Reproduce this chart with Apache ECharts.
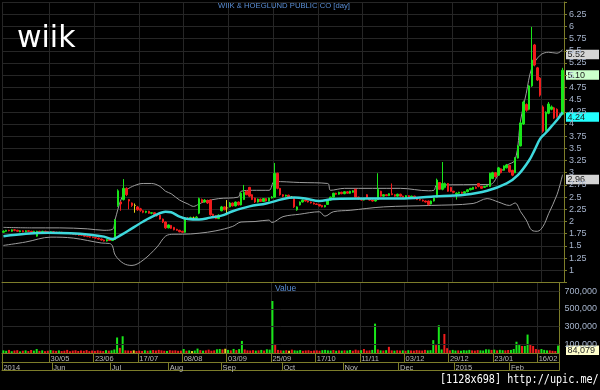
<!DOCTYPE html>
<html><head><meta charset="utf-8">
<script src="https://cdn.jsdelivr.net/npm/echarts@6/dist/echarts.min.js"></script>
<style>html,body{margin:0;padding:0;background:#000;}#c{width:600px;height:390px;}</style>
</head><body><div id="c"></div>
<script>
const dates = [
'06/05/14','07/05/14','08/05/14','09/05/14','12/05/14','14/05/14','15/05/14','16/05/14','19/05/14','20/05/14','21/05/14','22/05/14','23/05/14','26/05/14','27/05/14','28/05/14','29/05/14','30/05/14',
'02/06/14','03/06/14','04/06/14','05/06/14','06/06/14','09/06/14','10/06/14','11/06/14','12/06/14','13/06/14','16/06/14','17/06/14','18/06/14','19/06/14','20/06/14','23/06/14','24/06/14','25/06/14','26/06/14','27/06/14','30/06/14',
'01/07/14','02/07/14','03/07/14','04/07/14','07/07/14','08/07/14','09/07/14','10/07/14','15/07/14','16/07/14','17/07/14','18/07/14','21/07/14','22/07/14','23/07/14','24/07/14','25/07/14','28/07/14','29/07/14','30/07/14','31/07/14',
'01/08/14','04/08/14','05/08/14','06/08/14','07/08/14','08/08/14','13/08/14','14/08/14','15/08/14','18/08/14','19/08/14','20/08/14','21/08/14','22/08/14','25/08/14','26/08/14','27/08/14','28/08/14','29/08/14',
'01/09/14','02/09/14','03/09/14','04/09/14','05/09/14','08/09/14','09/09/14','10/09/14','11/09/14','12/09/14','15/09/14','16/09/14','17/09/14','18/09/14','19/09/14','22/09/14','23/09/14','24/09/14','25/09/14','26/09/14','29/09/14','30/09/14',
'01/10/14','02/10/14','03/10/14','06/10/14','07/10/14','08/10/14','09/10/14','10/10/14','13/10/14','14/10/14','15/10/14','16/10/14','17/10/14','20/10/14','21/10/14','22/10/14','24/10/14','27/10/14','28/10/14','29/10/14','30/10/14','31/10/14',
'03/11/14','04/11/14','05/11/14','06/11/14','07/11/14','10/11/14','11/11/14','12/11/14','13/11/14','14/11/14','17/11/14','18/11/14','19/11/14','20/11/14','21/11/14','24/11/14','25/11/14','26/11/14','27/11/14','28/11/14',
'01/12/14','02/12/14','03/12/14','04/12/14','08/12/14','09/12/14','11/12/14','12/12/14','15/12/14','16/12/14','17/12/14','18/12/14','19/12/14','22/12/14','23/12/14','24/12/14','25/12/14','26/12/14','29/12/14','30/12/14',
'05/01/15','06/01/15','07/01/15','08/01/15','09/01/15','12/01/15','13/01/15','14/01/15','15/01/15','16/01/15','19/01/15','20/01/15','21/01/15','22/01/15','23/01/15','26/01/15','27/01/15','28/01/15','29/01/15','30/01/15',
'02/02/15','03/02/15','04/02/15','05/02/15','06/02/15','09/02/15','10/02/15','11/02/15','12/02/15','13/02/15','16/02/15','17/02/15','18/02/15','19/02/15','20/02/15','23/02/15','24/02/15','25/02/15'
];
const opens = [
1.78,1.80,1.82,1.80,1.83,1.82,1.79,1.81,1.79,1.81,1.80,1.78,1.70,1.80,1.79,1.80,1.79,1.78,
1.79,1.78,1.77,1.78,1.77,1.77,1.76,1.75,1.74,1.73,1.73,1.72,1.70,1.69,1.68,1.67,1.66,1.64,1.62,1.60,1.63,
1.61,1.63,2.33,2.40,2.45,2.68,2.45,2.38,2.33,2.30,2.26,2.22,2.19,2.21,2.17,2.18,2.14,2.13,2.05,1.99,1.87,
1.92,1.88,1.84,1.82,1.80,1.78,2.07,2.05,2.07,2.07,2.17,2.45,2.40,2.43,2.44,2.15,2.12,2.06,2.22,
2.30,2.28,2.30,2.38,2.32,2.40,2.34,2.45,2.62,2.70,2.55,2.48,2.40,2.46,2.41,2.47,2.42,2.48,2.50,2.99,2.68,2.55,
2.52,2.54,2.50,2.48,2.24,2.34,2.40,2.44,2.42,2.40,2.38,2.36,2.35,2.33,2.30,2.35,2.44,2.50,2.58,2.56,2.60,2.57,
2.61,2.58,2.60,2.66,2.50,2.46,2.44,2.55,2.47,2.44,2.42,2.45,2.62,2.52,2.55,2.53,2.57,2.55,2.52,2.56,
2.52,2.50,2.53,2.50,2.52,2.47,2.45,2.44,2.42,2.42,2.36,2.42,2.50,2.80,2.66,2.70,2.78,2.70,2.62,2.56,
2.58,2.60,2.58,2.61,2.65,2.66,2.70,2.78,2.72,2.70,2.72,2.72,2.88,3.00,2.95,3.08,3.05,3.10,3.15,3.05,
3.00,3.30,3.55,4.00,4.40,4.30,4.78,5.62,5.15,4.94,4.35,3.87,4.22,4.30,4.33,4.30,4.20,4.20
];
const closes = [
1.80,1.82,1.81,1.83,1.82,1.80,1.81,1.79,1.81,1.80,1.78,1.80,1.80,1.79,1.80,1.79,1.78,1.79,
1.78,1.77,1.78,1.77,1.76,1.76,1.75,1.74,1.73,1.72,1.72,1.70,1.69,1.68,1.67,1.66,1.64,1.62,1.60,1.63,1.61,
1.63,2.03,2.63,2.36,2.68,2.55,2.42,2.33,2.33,2.24,2.23,2.19,2.21,2.17,2.18,2.14,2.12,2.05,1.99,1.87,1.93,
1.86,1.83,1.82,1.79,1.78,2.07,2.05,2.08,2.07,2.09,2.47,2.40,2.44,2.38,2.14,2.12,2.06,2.13,2.30,
2.24,2.28,2.38,2.32,2.40,2.34,2.58,2.60,2.55,2.52,2.45,2.40,2.46,2.41,2.47,2.42,2.48,2.50,2.99,2.68,2.55,2.52,
2.54,2.50,2.50,2.30,2.30,2.40,2.44,2.42,2.40,2.38,2.36,2.35,2.32,2.30,2.33,2.45,2.50,2.58,2.56,2.60,2.57,2.61,
2.58,2.62,2.63,2.50,2.46,2.44,2.47,2.47,2.44,2.42,2.44,2.66,2.52,2.55,2.53,2.57,2.55,2.52,2.56,2.52,
2.50,2.53,2.50,2.52,2.47,2.45,2.44,2.42,2.40,2.35,2.42,2.48,2.85,2.66,2.78,2.78,2.62,2.62,2.60,2.58,
2.60,2.58,2.61,2.65,2.68,2.70,2.68,2.72,2.68,2.72,2.74,2.99,3.00,2.92,3.10,3.00,3.14,3.16,3.02,2.95,
3.30,3.55,4.02,4.45,4.28,4.78,5.31,5.21,4.90,4.59,3.85,4.24,4.41,4.35,4.12,4.15,4.14,5.10
];
const lows = [
1.77,1.79,1.80,1.79,1.80,1.79,1.78,1.78,1.78,1.79,1.77,1.77,1.69,1.78,1.78,1.78,1.77,1.77,
1.77,1.76,1.76,1.76,1.75,1.75,1.74,1.73,1.72,1.71,1.71,1.69,1.68,1.67,1.66,1.65,1.63,1.61,1.59,1.59,1.60,
1.60,1.62,2.30,2.22,2.43,2.52,2.25,2.30,2.18,2.22,2.20,2.17,2.17,2.16,2.15,2.13,2.10,2.04,1.97,1.85,1.86,
1.85,1.82,1.81,1.78,1.77,1.77,2.03,2.04,2.03,2.05,2.15,2.38,2.39,2.36,2.12,2.10,2.05,2.05,2.21,
2.23,2.13,2.29,2.31,2.31,2.33,2.33,2.44,2.54,2.50,2.44,2.38,2.39,2.40,2.40,2.41,2.41,2.47,2.49,2.66,2.53,2.50,
2.51,2.49,2.48,2.28,2.22,2.33,2.39,2.41,2.39,2.37,2.35,2.34,2.31,2.29,2.29,2.34,2.43,2.49,2.55,2.55,2.56,2.56,
2.57,2.57,2.59,2.49,2.45,2.43,2.43,2.46,2.43,2.41,2.41,2.44,2.51,2.51,2.52,2.52,2.54,2.51,2.51,2.51,
2.49,2.49,2.49,2.49,2.46,2.44,2.43,2.41,2.39,2.33,2.35,2.41,2.49,2.65,2.64,2.68,2.61,2.61,2.58,2.45,
2.57,2.57,2.57,2.60,2.64,2.65,2.67,2.70,2.67,2.69,2.71,2.71,2.87,2.90,2.94,2.99,3.04,3.09,3.00,2.93,
2.99,3.29,3.54,3.98,4.25,4.28,4.76,5.18,4.88,4.56,3.82,3.85,4.20,4.28,4.10,4.13,4.12,4.18
];
const highs = [
1.82,1.83,1.83,1.84,1.84,1.83,1.82,1.82,1.82,1.82,1.81,1.81,1.81,1.81,1.81,1.81,1.80,1.80,
1.80,1.79,1.79,1.79,1.78,1.78,1.77,1.76,1.75,1.74,1.74,1.73,1.71,1.70,1.69,1.68,1.67,1.65,1.63,1.64,1.64,
1.64,2.05,2.66,2.42,2.87,2.70,2.46,2.39,2.37,2.32,2.28,2.23,2.22,2.22,2.19,2.19,2.15,2.14,2.06,2.00,1.94,
1.93,1.89,1.85,1.83,1.81,2.08,2.09,2.10,2.10,2.11,2.49,2.47,2.46,2.45,2.45,2.16,2.13,2.15,2.32,
2.31,2.44,2.40,2.39,2.41,2.41,2.60,2.75,2.64,2.71,2.56,2.49,2.47,2.47,2.48,2.48,2.49,2.52,3.20,3.00,2.69,2.56,
2.55,2.55,2.52,2.49,2.31,2.41,2.45,2.45,2.43,2.41,2.39,2.37,2.36,2.34,2.34,2.46,2.51,2.59,2.59,2.61,2.61,2.62,
2.62,2.63,2.64,2.67,2.51,2.47,2.48,2.56,2.48,2.45,2.45,2.99,2.63,2.56,2.56,2.58,2.78,2.56,2.57,2.57,
2.53,2.54,2.54,2.53,2.53,2.48,2.46,2.45,2.43,2.43,2.43,2.49,2.88,2.81,3.22,2.80,2.79,2.71,2.63,2.60,
2.61,2.61,2.62,2.66,2.69,2.71,2.72,2.79,2.73,2.73,2.75,3.00,3.02,3.01,3.12,3.09,3.15,3.18,3.16,3.06,
3.32,3.57,4.05,4.48,4.42,4.80,5.99,5.64,5.17,4.96,4.38,4.26,4.45,4.38,4.35,4.32,4.22,5.15
];
const volumes = [
30000,25000,35000,20000,28000,32000,18000,26000,30000,22000,34000,27000,45000,24000,30000,21000,26000,33000,
28000,24000,30000,22000,26000,35000,20000,27000,31000,23000,29000,25000,33000,21000,28000,24000,30000,26000,22000,32000,27000,
30000,40000,176000,58000,190000,30000,28000,25000,30000,22000,27000,24000,31000,26000,29000,33000,28000,35000,30000,26000,24000,
32000,28000,30000,25000,27000,45000,26000,30000,22000,28000,50000,32000,27000,30000,38000,26000,30000,42000,45000,
40000,48000,35000,30000,46000,33000,44000,137000,40000,30000,28000,32000,27000,30000,35000,28000,42000,38000,590000,100000,35000,30000,
28000,32000,26000,38000,30000,27000,33000,25000,29000,31000,24000,28000,30000,26000,32000,35000,30000,28000,33000,26000,30000,27000,
30000,28000,34000,26000,38000,30000,32000,45000,28000,30000,35000,333000,40000,30000,28000,32000,70000,30000,27000,31000,
28000,30000,26000,32000,29000,27000,33000,30000,28000,35000,30000,32000,146000,90000,315000,40000,216000,55000,30000,35000,
28000,30000,26000,32000,29000,35000,30000,27000,33000,30000,28000,42000,40000,35000,38000,30000,36000,32000,30000,34000,
35000,45000,128000,90000,80000,80000,209000,100000,80000,45000,38000,45000,35000,30000,30000,25000,22000,84079
];
// indicator readings [bar index, value]
const ma20 = [[0,1.70],[8,1.75],[16,1.77],[24,1.76],[31,1.73],[36,1.69],[39,1.64],[42,1.72],[46,1.86],[50,2.00],[54,2.12],[58,2.20],[60,2.19],[63,2.10],[66,2.05],[70,2.04],[74,2.08],[78,2.12],[82,2.21],[88,2.31],[94,2.37],[100,2.46],[104,2.49],[108,2.47],[113,2.42],[118,2.46],[130,2.47],[142,2.47],[153,2.51],[165,2.55],[173,2.63],[180,2.78],[184,2.95],[188,3.25],[190,3.47],[192,3.70],[194,3.82],[196,3.95],[198,4.08],[200,4.24]];
const bbUpper = [[0,1.88],[10,1.87],[20,1.87],[30,1.85],[36,1.82],[39,1.84],[40,2.05],[42,2.44],[44,2.64],[47,2.74],[50,2.78],[53,2.78],[56,2.72],[58,2.62],[60,2.57],[63,2.44],[66,2.36],[68,2.31],[70,2.36],[72,2.41],[77,2.47],[84,2.50],[85,2.62],[89,2.64],[95,2.64],[97,2.82],[106,2.80],[116,2.78],[117,2.64],[122,2.68],[142,2.68],[152,2.63],[154,2.64],[155,2.75],[174,2.76],[177,2.95],[180,3.15],[183,3.26],[185,4.08],[187,4.63],[189,5.15],[192,5.41],[195,5.47],[198,5.45],[200,5.52]];
const bbLower = [[0,1.51],[8,1.58],[17,1.68],[25,1.66],[35,1.56],[38,1.55],[39,1.50],[40,1.31],[43,1.14],[46,1.10],[50,1.21],[55,1.48],[58,1.70],[61,1.74],[64,1.74],[70,1.76],[76,1.81],[82,1.90],[85,1.99],[90,2.00],[95,2.03],[96,1.98],[100,2.10],[106,2.15],[113,2.20],[115,2.11],[118,2.20],[124,2.23],[136,2.30],[153,2.33],[168,2.37],[173,2.47],[177,2.40],[181,2.33],[183,2.38],[185,2.20],[187,2.03],[189,1.82],[191,1.80],[193,1.90],[195,2.16],[198,2.55],[200,2.96]];
const dayTicks = ['30/05','23/06','17/07','08/08','03/09','25/09','17/10','11/11','03/12','29/12','23/01','16/02'];
const monthLabels = ['2014','Jun','Jul','Aug','Sep','Oct','Nov','Dec','2015','Feb'];
const monthStarts = ['06/05/14','02/06/14','01/07/14','01/08/14','01/09/14','01/10/14','03/11/14','01/12/14','05/01/15','02/02/15'];

const GREEN='#19e619', RED='#f01c1c', DOJI='#e6d21e';
const OLIVE='#7d7d2a', GRID='#262626', LBL='#a6b4cc', BLUE='#5b8fd6';
const dayIdx = new Set(dates.map((d,i)=>dayTicks.indexOf(d.slice(0,5))>=0?i:-1).filter(i=>i>=0));
const sepIdx = new Set([0,...dayIdx]);
const monIdx = {}; monthStarts.forEach((d,k)=>{monIdx[dates.indexOf(d)]=monthLabels[k];});
const candleData = opens.map((o,i)=>[o,closes[i],lows[i],highs[i]]);
const volData = volumes.map((v,i)=>({value:v,itemStyle:{color:closes[i]>opens[i]?GREEN:(closes[i]<opens[i]?RED:DOJI)}}));
const font='Liberation Sans';

const chart = echarts.init(document.getElementById('c'),null,{renderer:'canvas'});
chart.setOption({
  backgroundColor:'#000', animation:false,
  textStyle:{fontFamily:font},
  title:[
    {text:'WIIK & HOEGLUND PUBLIC CO [day]',left:218,top:2,padding:0,textStyle:{color:BLUE,fontSize:7.7,fontWeight:'normal',fontFamily:font}},
    {text:'wiik',left:17,top:24,padding:0,textStyle:{color:'#ffffff',fontSize:30,fontWeight:'normal',fontFamily:'DejaVu Sans'}},
    {text:'Value',left:275,top:284,padding:0,textStyle:{color:BLUE,fontSize:8.5,fontWeight:'normal',fontFamily:font}}
  ],
  grid:[{left:2,right:36,top:2,height:280.5},{left:2,right:36,top:282.5,height:70.5}],
  xAxis:[
    {type:'category',gridIndex:0,data:dates,boundaryGap:true,axisLine:{lineStyle:{color:OLIVE}},axisTick:{show:false},axisLabel:{show:false},
     splitLine:{show:true,interval:(i)=>sepIdx.has(i),lineStyle:{color:GRID,width:1}}},
    {type:'category',gridIndex:1,data:dates,boundaryGap:true,position:'bottom',axisLine:{lineStyle:{color:OLIVE}},
     axisTick:{show:true,interval:(i)=>sepIdx.has(i),length:9,lineStyle:{color:OLIVE}},
     axisLabel:{interval:(i)=>dayIdx.has(i),formatter:(v)=>v.slice(0,5),color:'#b8b8b8',fontSize:7.5,align:'left',margin:2,fontFamily:font},
     splitLine:{show:true,interval:(i)=>sepIdx.has(i),lineStyle:{color:GRID,width:1}}},
    {type:'category',gridIndex:1,data:dates,boundaryGap:true,position:'bottom',offset:9,axisLine:{lineStyle:{color:OLIVE}},
     axisTick:{show:true,interval:(i)=>(i in monIdx),length:8,lineStyle:{color:OLIVE}},
     axisLabel:{interval:(i)=>(i in monIdx),formatter:(v,i)=>monIdx[i]||'',color:'#b8b8b8',fontSize:7.5,align:'left',margin:1.5,fontFamily:font}},
    {type:'category',gridIndex:1,data:dates,boundaryGap:true,position:'bottom',offset:17,axisLine:{lineStyle:{color:OLIVE}},axisTick:{show:false},axisLabel:{show:false}}
  ],
  yAxis:[
    {type:'value',gridIndex:0,position:'right',min:0.75,max:6.5,interval:0.25,
     axisLine:{show:true,lineStyle:{color:OLIVE}},axisTick:{show:true,length:3,lineStyle:{color:OLIVE}},
     axisLabel:{color:LBL,fontSize:9,margin:5,fontFamily:font,formatter:(v)=>(v<0.9||v>6.4)?'':String(+v.toFixed(2))},
     splitLine:{show:true,lineStyle:{color:GRID,width:1}}},
    {type:'value',gridIndex:1,position:'right',min:0,max:800000,interval:100000,
     axisLine:{show:true,lineStyle:{color:OLIVE}},axisTick:{show:false},
     axisLabel:{color:LBL,fontSize:9,margin:5,fontFamily:font,formatter:(v)=>(v/100000)%2===1?v.toLocaleString('en-US'):''},
     splitLine:{show:false}}
  ],
  series:[
    {type:'line',xAxisIndex:0,yAxisIndex:0,data:bbUpper,smooth:0.35,symbol:'none',lineStyle:{color:'#9c9c9c',width:1},z:2},
    {type:'line',xAxisIndex:0,yAxisIndex:0,data:bbLower,smooth:0.35,symbol:'none',lineStyle:{color:'#9c9c9c',width:1},z:2},
    {type:'candlestick',xAxisIndex:0,yAxisIndex:0,data:candleData,barWidth:2,z:3,
     itemStyle:{color:GREEN,color0:RED,borderColor:GREEN,borderColor0:RED,borderColorDoji:DOJI,borderWidth:1}},
    {type:'line',xAxisIndex:0,yAxisIndex:0,data:ma20,smooth:0.35,symbol:'none',lineStyle:{color:'#3ed8dc',width:2.5},z:4},
    {type:'bar',xAxisIndex:1,yAxisIndex:1,data:volData,barWidth:2,
     markLine:{silent:true,symbol:'none',label:{show:false},lineStyle:{color:GRID,width:1,type:'solid'},
       data:[{yAxis:100000},{yAxis:300000},{yAxis:500000},{yAxis:700000}]}}
  ]
});

function tag(axis,val,text,bg){
  const y = chart.convertToPixel({yAxisIndex:axis},val);
  return {type:'group',x:566,y:y,z:100,children:[
    {type:'rect',shape:{x:0,y:0,width:33,height:9.5},style:{fill:bg}},
    {type:'text',x:1.5,y:5,style:{text:text,fill:'#222',font:'9px "Liberation Sans"',textVerticalAlign:'middle'}}
  ]};
}
const last = dates.length-1;
const up = bbUpper[bbUpper.length-1][1], lo = bbLower[bbLower.length-1][1], ma = ma20[ma20.length-1][1];
chart.setOption({graphic:[
  tag(0,up,up.toFixed(2),'#d4d4d4'),
  tag(0,closes[last],closes[last].toFixed(2),'#ccffcc'),
  tag(0,ma,ma.toFixed(2),'#22ffff'),
  tag(0,lo,lo.toFixed(2),'#d4d4d4'),
  tag(1,volumes[last],volumes[last].toLocaleString('en-US'),'#ffffcc'),
  {type:'text',x:440,y:373,scaleX:0.78,z:100,style:{text:'[1128x698] http://upic.me/',fill:'#ffffff',font:'13px "DejaVu Sans Mono"'}}
]});
</script></body></html>
